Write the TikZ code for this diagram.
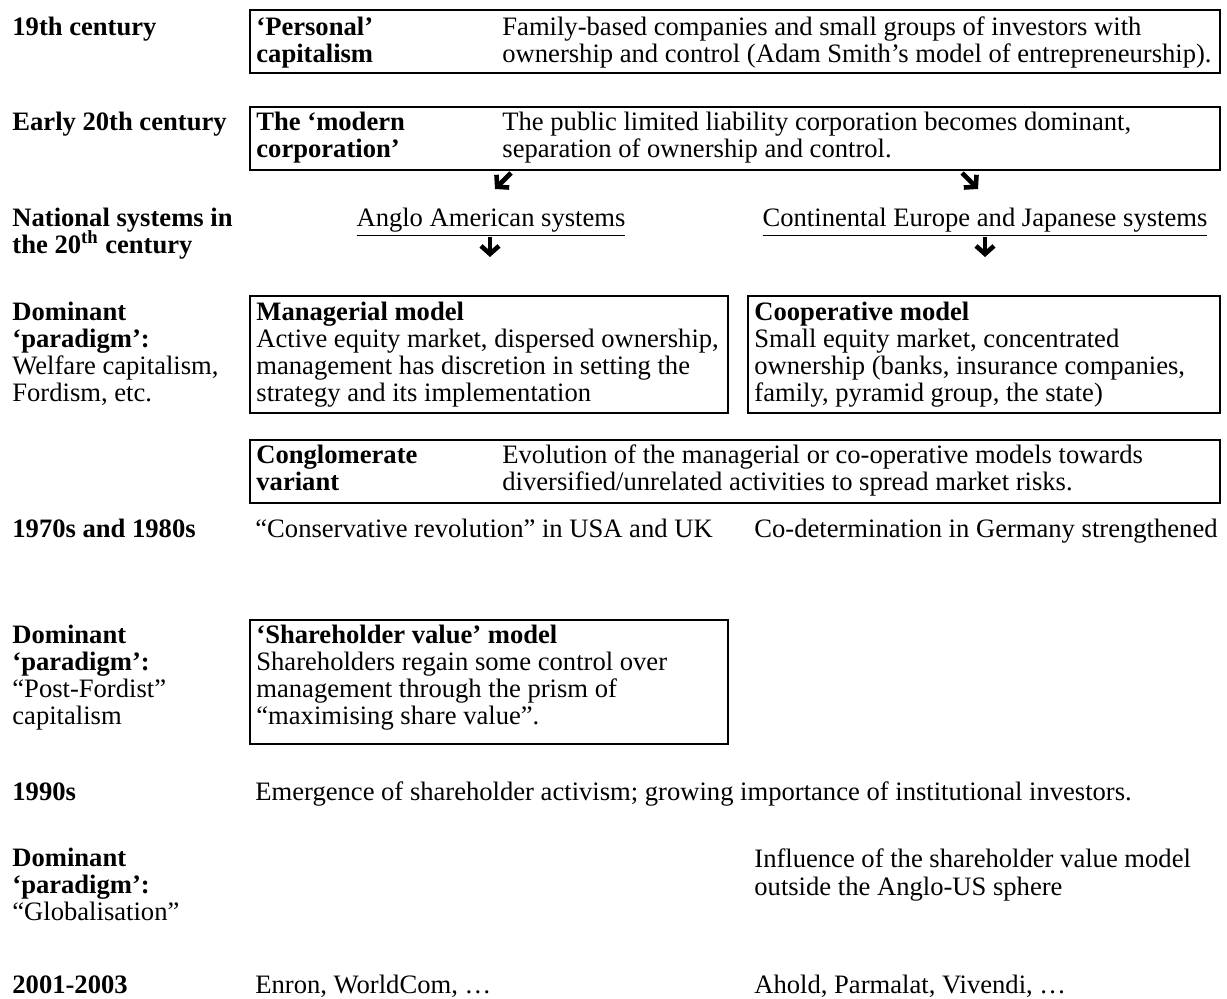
\documentclass[tikz,border=0pt]{standalone}
\usepackage{fontspec}
\setmainfont{Liberation Serif}
\usetikzlibrary{arrows.meta,fit}
\newcommand{\mlines}[1]{\vtop{\baselineskip=13.5pt\lineskiplimit=-20pt\lineskip=0pt\halign{##\hfil\cr#1\crcr}}}
\begin{document}
\begin{tikzpicture}[x=0.5pt,y=-0.5pt,
  every node/.style={font=\fontsize{13.3pt}{13.5pt}\selectfont, inner sep=0pt, anchor=base west},
  frame/.style={draw, line width=1pt, inner sep=0pt},
  bigarrow/.style={line width=2.3pt, -{Straight Barb[length=4pt,width=9pt]}}]
\useasboundingbox (0,0) rectangle (1227,999);
% row 1
\node (l1) at (12,36) {\textbf{19th century}};
\node[frame, fit={(250,10)(1220,73)}] (b1) {};
\node (b1a) at (256,36) {\mlines{\textbf{‘Personal’}\cr\textbf{capitalism}}};
\node (b1b) at (502,36) {\mlines{Family-based companies and small groups of investors with\cr ownership and control (Adam Smith’s model of entrepreneurship).}};
% row 2
\node (l2) at (12,131) {\textbf{Early 20th century}};
\node[frame, fit={(250,107)(1220,170)}] (b2) {};
\node (b2a) at (256,131) {\mlines{\textbf{The ‘modern}\cr\textbf{corporation’}}};
\node (b2b) at (502,131) {\mlines{The public limited liability corporation becomes dominant,\cr separation of ownership and control.}};
% national systems
\node (l3) at (12,227) {\mlines{\textbf{National systems in}\cr\textbf{the 20\textsuperscript{th} century}}};
\node[anchor=base] (anglo) at (491,227) {\underline{Anglo American systems}};
\node[anchor=base] (conti) at (985,227) {\underline{Continental Europe and Japanese systems}};
\coordinate (a1s) at (511,173); \coordinate (a1e) at (495,189);
\coordinate (a2s) at (962,173); \coordinate (a2e) at (978,189);
\draw[bigarrow] (a1s) -- (a1e);
\draw[bigarrow] (a2s) -- (a2e);
\coordinate (a3s) at (490,237); \coordinate (a3e) at (490,257);
\coordinate (a4s) at (985,237); \coordinate (a4e) at (985,257);
\draw[bigarrow] (a3s) -- (a3e);
\draw[bigarrow] (a4s) -- (a4e);
% dominant paradigm 1
\node (l4) at (12,321) {\mlines{\textbf{Dominant}\cr\textbf{‘paradigm’:}\cr Welfare capitalism,\cr Fordism, etc.}};
\node[frame, fit={(250,296)(728,413)}] (b3) {};
\node (b3a) at (256,321) {\mlines{\textbf{Managerial model}\cr Active equity market, dispersed ownership,\cr management has discretion in setting the\cr strategy and its implementation}};
\node[frame, fit={(748,296)(1220,413)}] (b4) {};
\node (b4a) at (754,321) {\mlines{\textbf{Cooperative model}\cr Small equity market, concentrated\cr ownership (banks, insurance companies,\cr family, pyramid group, the state)}};
% conglomerate
\node[frame, fit={(250,440)(1220,503)}] (b5) {};
\node (b5a) at (256,464) {\mlines{\textbf{Conglomerate}\cr\textbf{variant}}};
\node (b5b) at (502,464) {\mlines{Evolution of the managerial or co-operative models towards\cr diversified/unrelated activities to spread market risks.}};
% 1970s
\node (l5) at (12,538) {\textbf{1970s and 1980s}};
\node (t5a) at (255,538) {“Conservative revolution” in USA and UK};
\node (t5b) at (754,538) {Co-determination in Germany strengthened};
% dominant paradigm 2
\node (l6) at (12,644) {\mlines{\textbf{Dominant}\cr\textbf{‘paradigm’:}\cr “Post-Fordist”\cr capitalism}};
\node[frame, fit={(250,620)(728,744)}] (b6) {};
\node (b6a) at (256,644) {\mlines{\textbf{‘Shareholder value’ model}\cr Shareholders regain some control over\cr management through the prism of\cr “maximising share value”.}};
% 1990s
\node (l7) at (12,800) {\textbf{1990s}};
\node (t7) at (255,800) {Emergence of shareholder activism; growing importance of institutional investors.};
% dominant paradigm 3
\node (l8) at (12,866) {\mlines{\textbf{Dominant}\cr\textbf{‘paradigm’:}\cr “Globalisation”}};
\node (t8) at (754,868) {\mlines{Influence of the shareholder value model\cr outside the Anglo-US sphere}};
% 2001-2003
\node (l9) at (12,993) {\textbf{2001-2003}};
\node (t9a) at (255,993) {Enron, WorldCom, …};
\node (t9b) at (754,993) {Ahold, Parmalat, Vivendi, …};
\end{tikzpicture}
\end{document}
